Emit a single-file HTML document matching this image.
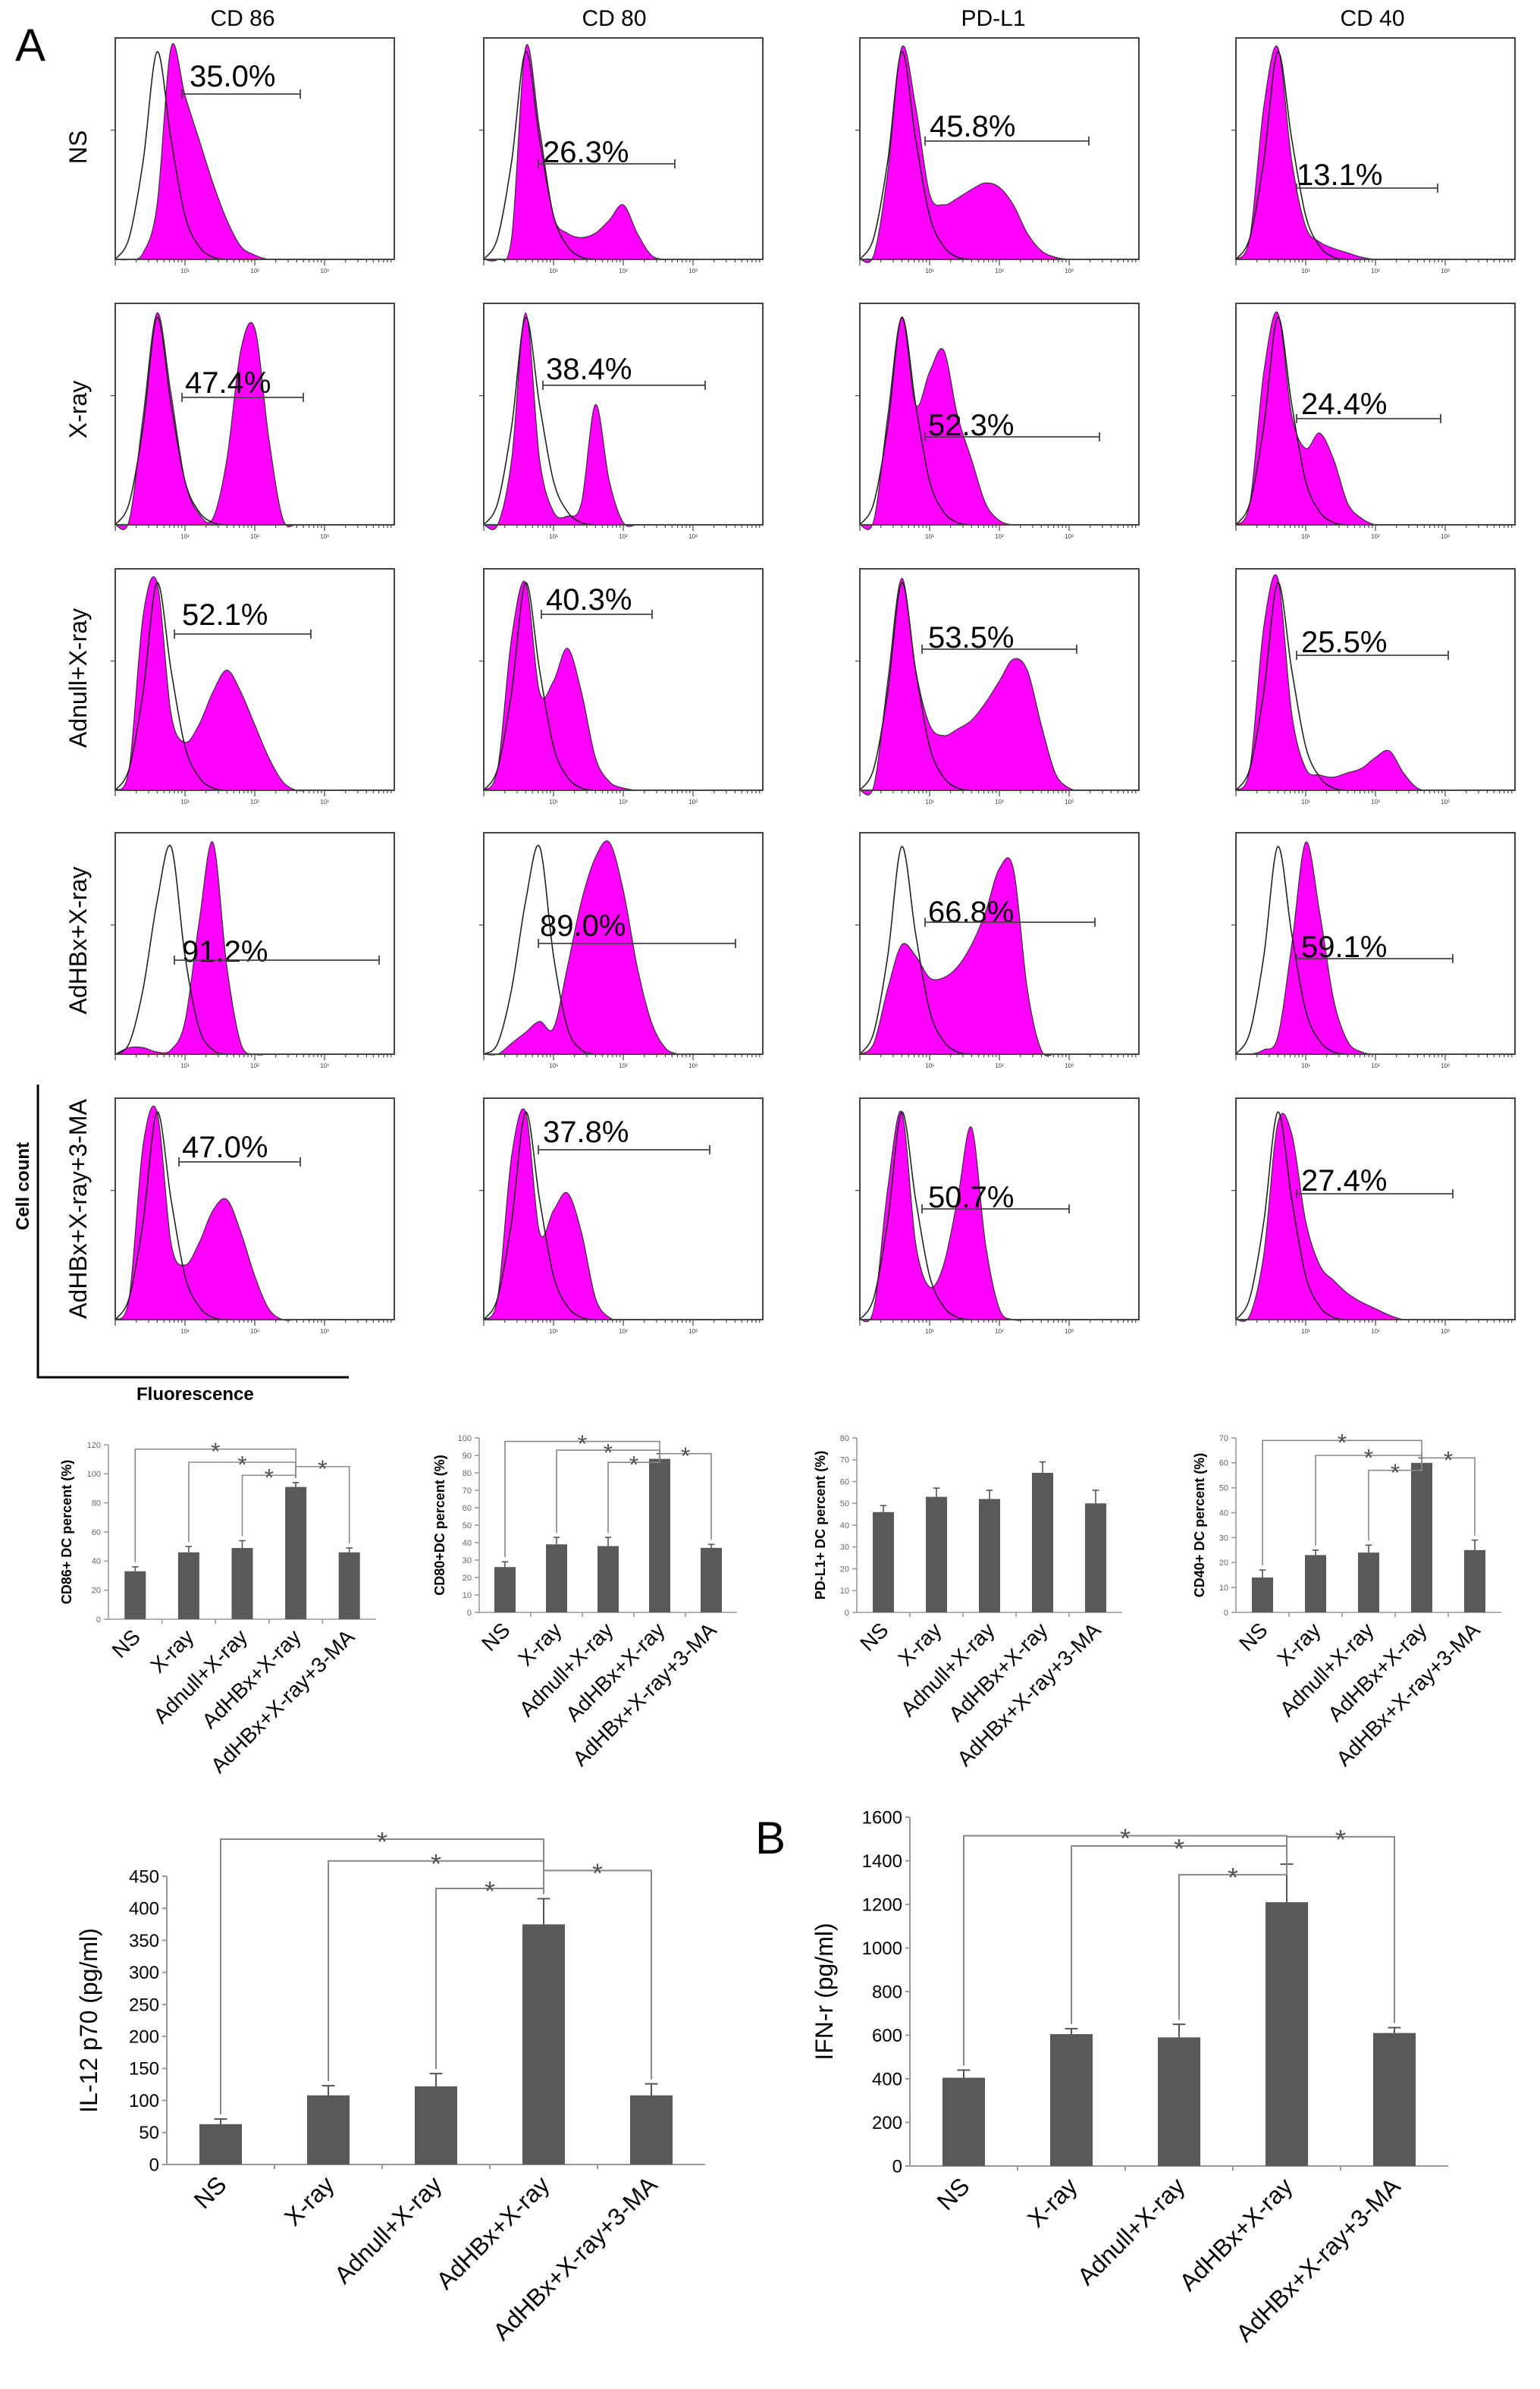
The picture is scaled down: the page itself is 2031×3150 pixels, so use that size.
<!DOCTYPE html>
<html><head><meta charset="utf-8"><style>
html,body{margin:0;padding:0;background:#fff}
svg{display:block}
text{font-family:"Liberation Sans",Arial,sans-serif}
</style></head><body>
<svg id="fig" xmlns="http://www.w3.org/2000/svg" width="2031" height="3150" viewBox="0 0 1015.5 1575"></svg>
<script>
// ---------- DATA ----------
const categories = ["NS","X-ray","Adnull+X-ray","AdHBx+X-ray","AdHBx+X-ray+3-MA"];
const markers = ["CD 86","CD 80","PD-L1","CD 40"];
const cd86Vals = [33,46,49,91,46];
const cd86Err = [3,4,5,3,3];
const cd80Vals = [26,39,38,88,37];
const cd80Err = [3,4,5,3,2];
const pdl1Vals = [46,53,52,64,50];
const pdl1Err = [3,4,4,5,6];
const cd40Vals = [14,23,24,60,25];
const cd40Err = [3,2,3,2,4];
const cd86Ticks = [0,20,40,60,80,100,120];
const cd80Ticks = [0,10,20,30,40,50,60,70,80,90,100];
const pdl1Ticks = [0,10,20,30,40,50,60,70,80];
const cd40Ticks = [0,10,20,30,40,50,60,70];
const il12Vals = [63,108,122,375,108];
const il12Err = [8,15,20,40,18];
const il12Ticks = [0,50,100,150,200,250,300,350,400,450];
const ifnVals = [405,605,590,1210,610];
const ifnErr = [35,25,60,175,25];
const ifnTicks = [0,200,400,600,800,1000,1200,1400,1600];
// significance brackets: [fromIndex, level]
const cd86Sig = [[0,117],[1,108],[2,99],[4,105]];
const cd80Sig = [[0,98],[1,93],[2,86],[4,91]];
const cd40Sig = [[0,69],[1,63],[2,57],[4,62]];
const il12Sig = [[0,508],[1,474],[2,431],[4,459]];
const ifnSig = [[0,1515],[1,1468],[2,1336],[4,1510]];
// histogram percentages (rows x markers)
const pctLabels = [
 ["35.0%","26.3%","45.8%","13.1%"],
 ["47.4%","38.4%","52.3%","24.4%"],
 ["52.1%","40.3%","53.5%","25.5%"],
 ["91.2%","89.0%","66.8%","59.1%"],
 ["47.0%","37.8%","50.7%","27.4%"]];
// histogram sampled heights (21 samples across log axis)
const ctrlHist = [0,0.1,0.45,0.95,0.55,0.2,0.06,0.01,0,0,0,0,0,0,0,0,0,0,0,0,0];
const ctrlHistShift = [0,0.05,0.3,0.7,0.95,0.45,0.12,0.02,0,0,0,0,0,0,0,0,0,0,0,0,0];
const histNS = [
 [0,0,0.03,0.25,0.97,0.75,0.55,0.35,0.18,0.06,0.02,0,0,0,0,0,0,0,0,0,0],
 [0,0,0.1,0.97,0.6,0.2,0.12,0.1,0.12,0.18,0.25,0.12,0.02,0,0,0,0,0,0,0,0],
 [0,0.02,0.4,0.97,0.7,0.3,0.25,0.28,0.32,0.35,0.33,0.25,0.12,0.04,0.01,0,0,0,0,0,0],
 [0,0.1,0.7,0.97,0.45,0.15,0.08,0.05,0.03,0.01,0,0,0,0,0,0,0,0,0,0,0]];
const histXray = [
 [0,0.02,0.5,0.97,0.6,0.2,0.05,0.03,0.3,0.8,0.9,0.4,0.03,0,0,0,0,0,0,0,0],
 [0,0,0.3,0.97,0.3,0.06,0.04,0.1,0.55,0.2,0.01,0,0,0,0,0,0,0,0,0,0],
 [0,0.02,0.5,0.95,0.55,0.7,0.8,0.5,0.3,0.1,0.02,0,0,0,0,0,0,0,0,0,0],
 [0,0.1,0.7,0.97,0.5,0.35,0.42,0.3,0.1,0.03,0,0,0,0,0,0,0,0,0,0,0]];
const histAdnull = [
 [0,0.1,0.8,0.95,0.35,0.22,0.3,0.45,0.55,0.45,0.3,0.15,0.04,0,0,0,0,0,0,0,0],
 [0,0.1,0.7,0.95,0.45,0.5,0.65,0.45,0.15,0.04,0.01,0,0,0,0,0,0,0,0,0,0],
 [0,0.02,0.5,0.97,0.55,0.3,0.25,0.28,0.32,0.4,0.5,0.6,0.55,0.3,0.08,0.01,0,0,0,0,0],
 [0,0.1,0.75,0.97,0.35,0.1,0.07,0.06,0.08,0.1,0.15,0.18,0.08,0.01,0,0,0,0,0,0,0]];
const histAdHBx = [
 [0,0.03,0.03,0.01,0.02,0.15,0.6,0.97,0.4,0.05,0,0,0,0,0,0,0,0,0,0,0],
 [0,0,0.05,0.1,0.15,0.12,0.4,0.7,0.9,0.97,0.75,0.4,0.15,0.03,0,0,0,0,0,0,0],
 [0,0.05,0.3,0.5,0.45,0.35,0.35,0.4,0.5,0.65,0.85,0.85,0.3,0.02,0,0,0,0,0,0,0],
 [0,0,0.02,0.08,0.5,0.97,0.65,0.25,0.06,0.01,0,0,0,0,0,0,0,0,0,0,0]];
const hist3MA = [
 [0,0.1,0.8,0.95,0.35,0.25,0.35,0.5,0.55,0.4,0.2,0.05,0,0,0,0,0,0,0,0,0],
 [0,0.1,0.75,0.95,0.4,0.5,0.58,0.4,0.1,0.01,0,0,0,0,0,0,0,0,0,0,0],
 [0,0.05,0.6,0.95,0.35,0.15,0.25,0.55,0.88,0.35,0.05,0,0,0,0,0,0,0,0,0,0],
 [0,0.02,0.3,0.9,0.85,0.45,0.25,0.18,0.12,0.08,0.05,0.02,0,0,0,0,0,0,0,0,0]];
const histRows = [histNS,histXray,histAdnull,histAdHBx,hist3MA];
// ---------- DRAW ----------
const NS_="http://www.w3.org/2000/svg";
const svg=document.getElementById('fig');
function el(tag,attrs,parent,txt){const e=document.createElementNS(NS_,tag);for(const k in attrs)e.setAttribute(k,attrs[k]);if(txt!==undefined)e.textContent=txt;(parent||svg).appendChild(e);return e;}
function smoothPath(pts){let d=`M${pts[0][0]},${pts[0][1]}`;for(let i=0;i<pts.length-1;i++){const p0=pts[Math.max(0,i-1)],p1=pts[i],p2=pts[i+1],p3=pts[Math.min(pts.length-1,i+2)];const c1x=p1[0]+(p2[0]-p0[0])/6,c1y=p1[1]+(p2[1]-p0[1])/6,c2x=p2[0]-(p3[0]-p1[0])/6,c2y=p2[1]-(p3[1]-p1[1])/6;d+=`C${c1x},${c1y} ${c2x},${c2y} ${p2[0]},${p2[1]}`;}return d;}

let t=el('text',{x:10,y:40,'font-size':30},svg,'A');

const colX=[76,319,567,815], rowY=[25,200,375,549,724], PW=184, PH=146;
const colHeadX=[160,405,655,905];
markers.forEach((m,i)=>{const h=el('text',{x:colHeadX[i],y:17,'font-size':15,'text-anchor':'middle'},svg,m);
});
const rowLabY=[97,270,447,620,797];
categories.forEach((c,r)=>{const g=el('text',{x:0,y:0,'font-size':16,'text-anchor':'middle',transform:`translate(57,${rowLabY[r]}) rotate(-90)`},svg,c);
});
// gate positions per panel [textX, textY, gx1, gx2, gy]
const gates=[
 [[125,57,120,198,62],[358,107,355,445,108],[613,90,610,718,93],[855,122,855,948,124]],
 [[122,259,120,200,262],[360,250,358,465,254],[612,287,610,725,288],[858,273,855,950,276]],
 [[120,412,115,205,418],[360,402,357,430,405],[612,427,608,710,428],[858,430,855,955,432]],
 [[120,634,115,250,633],[356,617,355,485,622],[612,608,610,722,608],[858,631,855,958,632]],
 [[120,763,118,198,766],[358,753,355,468,758],[612,796,608,705,797],[858,785,855,958,787]]];
for(let r=0;r<5;r++)for(let c=0;c<4;c++){
 const x0=colX[c],y0=rowY[r];
 const g=el('g',{});
 const data=histRows[r][c];
 const ctrl=(r===3&&(c===0||c===1))?ctrlHistShift:ctrlHist;
 const mp=data.map((v,i)=>[x0+PW*i/(data.length-1), y0+PH-v*(PH-2)]);
 const fill=el('path',{d:smoothPath(mp)+`L${x0+PW},${y0+PH}L${x0},${y0+PH}Z`,fill:'#ff00ff',stroke:'#333','stroke-width':0.6},g);
 
 const cp=ctrl.map((v,i)=>[x0+PW*i/(ctrl.length-1), y0+PH-v*(PH-2)]);
 const cl=el('path',{d:smoothPath(cp),fill:'none',stroke:'#222','stroke-width':0.8},g);
 
 el('rect',{x:x0,y:y0,width:PW,height:PH,fill:'none',stroke:'#444','stroke-width':1},g);
 for(let d=0;d<4;d++){for(let k=1;k<10;k++){const xx=x0+PW*(d+Math.log10(k))/4;el('line',{x1:xx,x2:xx,y1:y0+PH,y2:y0+PH+(k===1?4:2),stroke:'#444','stroke-width':0.6},g);}
  if(d>0)el('text',{x:x0+PW*d/4,y:y0+PH+9,'font-size':4,'text-anchor':'middle',fill:'#444'},g,'10'+['','¹','²','³'][d]);}
 el('line',{x1:x0-3,x2:x0,y1:y0+PH/2.4,y2:y0+PH/2.4,stroke:'#444','stroke-width':0.6},g);
 const gt=gates[r][c];
 const tx=el('text',{x:gt[0],y:gt[1],'font-size':20},g,pctLabels[r][c]);
 
 el('line',{x1:gt[2],x2:gt[3],y1:gt[4],y2:gt[4],stroke:'#444','stroke-width':0.9},g);
 el('line',{x1:gt[2],x2:gt[2],y1:gt[4]-3,y2:gt[4]+3,stroke:'#444','stroke-width':0.9},g);
 el('line',{x1:gt[3],x2:gt[3],y1:gt[4]-3,y2:gt[4]+3,stroke:'#444','stroke-width':0.9},g);
}
// cell-count axis
let ax=el('path',{d:'M25,715 L25,908 L230,908',fill:'none',stroke:'#000','stroke-width':1.5});

t=el('text',{x:0,y:0,'font-size':12,'font-weight':'bold','text-anchor':'middle',transform:'translate(19,782) rotate(-90)'},svg,'Cell count');

t=el('text',{x:90,y:923,'font-size':12,'font-weight':'bold'},svg,'Fluorescence');


function barChart(o){
 const g=el('g',{});
 const max=o.ticks[o.ticks.length-1];
 const ys=v=>o.y0-(v/max)*(o.y0-o.yTop);
 const step=(o.x1-o.x0)/o.vals.length;
 const xc=i=>o.x0+step*(i+0.5);
 el('line',{x1:o.x0,x2:o.x0,y1:o.y0,y2:o.yTop,stroke:'#999','stroke-width':o.lw},g);
 el('line',{x1:o.x0,x2:o.x1,y1:o.y0,y2:o.y0,stroke:'#999','stroke-width':o.lw},g);
 o.ticks.forEach(tv=>{el('line',{x1:o.x0-3,x2:o.x0,y1:ys(tv),y2:ys(tv),stroke:'#999','stroke-width':o.lw},g);
  const tl=el('text',{x:o.x0-5,y:ys(tv)+o.tfs*0.35,'font-size':o.tfs,'text-anchor':'end',fill:o.tcol},g,String(tv));
  });
 for(let i=1;i<o.vals.length;i++)el('line',{x1:o.x0+step*i,x2:o.x0+step*i,y1:o.y0,y2:o.y0+3,stroke:'#999','stroke-width':o.lw},g);
 o.vals.forEach((v,i)=>{
  const b=el('rect',{x:xc(i)-o.bw/2,y:ys(v),width:o.bw,height:o.y0-ys(v),fill:'#595959'},g);
  
  const e=o.err[i];
  el('line',{x1:xc(i),x2:xc(i),y1:ys(v),y2:ys(v+e),stroke:'#555','stroke-width':o.lw},g);
  el('line',{x1:xc(i)-o.bw*0.15,x2:xc(i)+o.bw*0.15,y1:ys(v+e),y2:ys(v+e),stroke:'#555','stroke-width':o.lw},g);
  const lb=el('text',{x:0,y:0,'font-size':o.cfs,'text-anchor':'end',transform:`translate(${xc(i)+o.cfs*0.3},${o.y0+o.cfs*0.9}) rotate(-45)`},g,categories[i]);
  
 });
 const yl=el('text',{x:0,y:0,'font-size':o.yfs,'font-weight':o.ybold?'bold':'normal','text-anchor':'middle',transform:`translate(${o.ylx},${(o.y0+o.yTop)/2}) rotate(-90)`},g,o.ylabel);
 
 if(o.sig){const tgt=3;o.sig.forEach(s=>{const i=s[0],lv=ys(s[1]);
  const top=ys(o.vals[i]+o.err[i])-3, ttop=ys(o.vals[tgt]+o.err[tgt])-3;
  const p=el('path',{d:`M${xc(i)},${top} L${xc(i)},${lv} L${xc(tgt)},${lv} L${xc(tgt)},${ttop}`,fill:'none',stroke:'#888','stroke-width':o.lw},g);
  
  const st=el('text',{x:(xc(i)+xc(tgt))/2,y:lv+o.sfs*0.45,'font-size':o.sfs,'text-anchor':'middle',fill:'#555'},g,'*');
  });}
}
const small={bw:14,lw:0.8,tfs:5.5,tcol:'#666',cfs:14,yfs:9,ybold:true,sfs:16};
barChart(Object.assign({},small,{name:'cd86-bar-chart',vals:cd86Vals,err:cd86Err,ticks:cd86Ticks,x0:71.5,x1:248,y0:1067.5,yTop:952.5,ylabel:'CD86+ DC percent (%)',ylx:47,sig:cd86Sig}));
barChart(Object.assign({},small,{name:'cd80-bar-chart',vals:cd80Vals,err:cd80Err,ticks:cd80Ticks,x0:316,x1:486,y0:1063,yTop:948,ylabel:'CD80+DC percent (%)',ylx:293,sig:cd80Sig}));
barChart(Object.assign({},small,{name:'pdl1-bar-chart',vals:pdl1Vals,err:pdl1Err,ticks:pdl1Ticks,x0:565,x1:740,y0:1063,yTop:948,ylabel:'PD-L1+ DC percent (%)',ylx:544}));
barChart(Object.assign({},small,{name:'cd40-bar-chart',vals:cd40Vals,err:cd40Err,ticks:cd40Ticks,x0:815,x1:990,y0:1063,yTop:948,ylabel:'CD40+ DC percent (%)',ylx:794,sig:cd40Sig}));
const big={bw:28,lw:1,tfs:12,tcol:'#000',cfs:16,yfs:16,ybold:false,sfs:18};
barChart(Object.assign({},big,{name:'il12-bar-chart',vals:il12Vals,err:il12Err,ticks:il12Ticks,x0:110,x1:465,y0:1427,yTop:1237,ylabel:'IL-12 p70 (pg/ml)',ylx:64,sig:il12Sig}));
barChart(Object.assign({},big,{name:'ifn-bar-chart',vals:ifnVals,err:ifnErr,ticks:ifnTicks,x0:600,x1:955,y0:1428,yTop:1198,ylabel:'IFN-r (pg/ml)',ylx:549,sig:ifnSig}));
t=el('text',{x:498,y:1222,'font-size':30},svg,'B');

</script>
</body></html>
